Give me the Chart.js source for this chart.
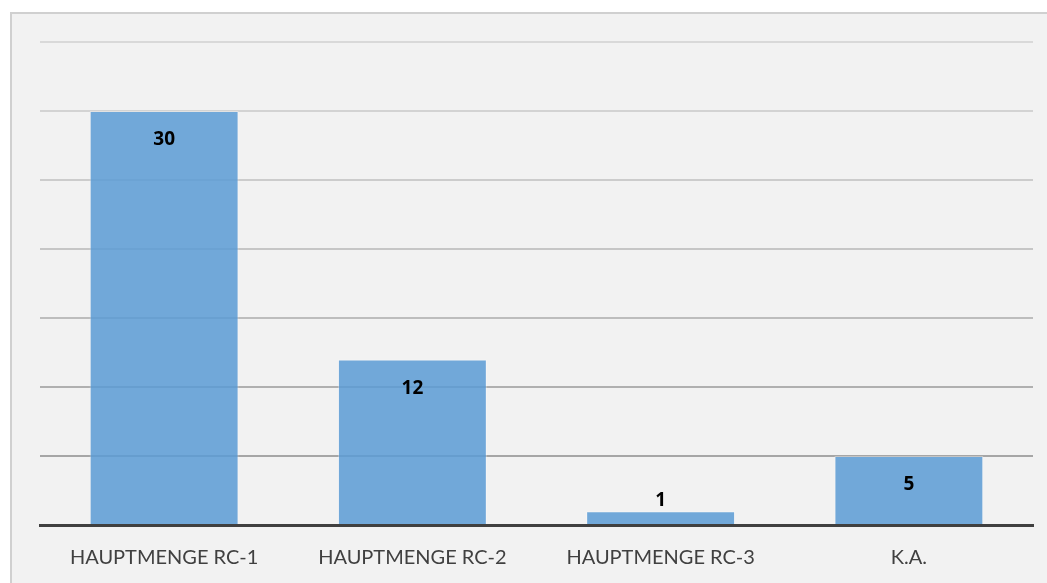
<!DOCTYPE html>
<html lang="de">
<head>
<meta charset="UTF-8">
<title>Hauptmenge</title>
<script src="https://cdn.jsdelivr.net/npm/chart.js"></script>
<style>
    html, body { margin: 0; padding: 0; background: #ffffff; overflow: hidden; }
    .frame {
        position: absolute; left: 10px; top: 12px;
        width: 1045px; height: 580px;
        background: #f2f2f2;
        border: 2px solid #d0d0d0;
    }
    #wrap { position: absolute; left: 0; top: 0; width: 1047px; height: 583px; }
</style>
</head>
<body>
<div class="frame"></div>
<div id="wrap"><canvas id="chart" width="1047" height="583"></canvas></div>
<script>
// data
const categories = ['HAUPTMENGE RC-1', 'HAUPTMENGE RC-2', 'HAUPTMENGE RC-3', 'K.A.'];
const counts = [30, 12, 1, 5];
const yTicks = [0, 5, 10, 15, 20, 25, 30, 35];

// grid gets darker towards the bottom, like the original
const gridColors = ['#bfbfbf', '#a6a6a6', '#b0b0b0', '#bdbdbd', '#c6c6c6', '#cccccc', '#d3d3d3', '#d9d9d9'];

// value labels: inside the bar top, above it if the bar is too short
const barValues = {
    id: 'barValues',
    afterDatasetsDraw(chart) {
        const ctx = chart.ctx;
        const meta = chart.getDatasetMeta(0);
        ctx.save();
        ctx.font = 'bold 19px "Open Sans", sans-serif';
        ctx.fillStyle = '#000000';
        ctx.textAlign = 'center';
        ctx.textBaseline = 'middle';
        meta.data.forEach((bar, i) => {
            const h = bar.base - bar.y;
            const y = h > 40 ? bar.y + 29 : bar.y - 11;
            ctx.fillText(String(counts[i]), bar.x, y);
        });
        ctx.restore();
    }
};

new Chart(document.getElementById('chart'), {
    type: 'bar',
    data: {
        labels: categories,
        datasets: [{
            data: counts,
            backgroundColor: 'rgba(91, 155, 213, 0.85)',
            borderColor: 'rgba(255, 255, 255, 0.35)',
            borderWidth: 1,
            barPercentage: 0.6,
            categoryPercentage: 1.0
        }]
    },
    options: {
        responsive: false,
        animation: false,
        layout: { padding: { left: 40, top: 42, right: 14, bottom: 0 } },
        plugins: {
            legend: { display: false },
            tooltip: { enabled: false }
        },
        scales: {
            x: {
                afterFit(axis) { axis.height = 58; },
                grid: { display: false, drawTicks: false },
                border: { display: true, color: '#404040', width: 3 },
                ticks: {
                    color: '#404040',
                    padding: 21,
                    font: { family: 'Lato, sans-serif', size: 20 }
                }
            },
            y: {
                min: 0,
                max: 35,
                afterBuildTicks(axis) { axis.ticks = yTicks.map(v => ({ value: v })); },
                ticks: { display: false },
                border: { display: false },
                grid: {
                    drawTicks: false,
                    lineWidth: 2,
                    color: c => gridColors[c.index] || '#d9d9d9'
                }
            }
        }
    },
    plugins: [barValues]
});
</script>
</body>
</html>
